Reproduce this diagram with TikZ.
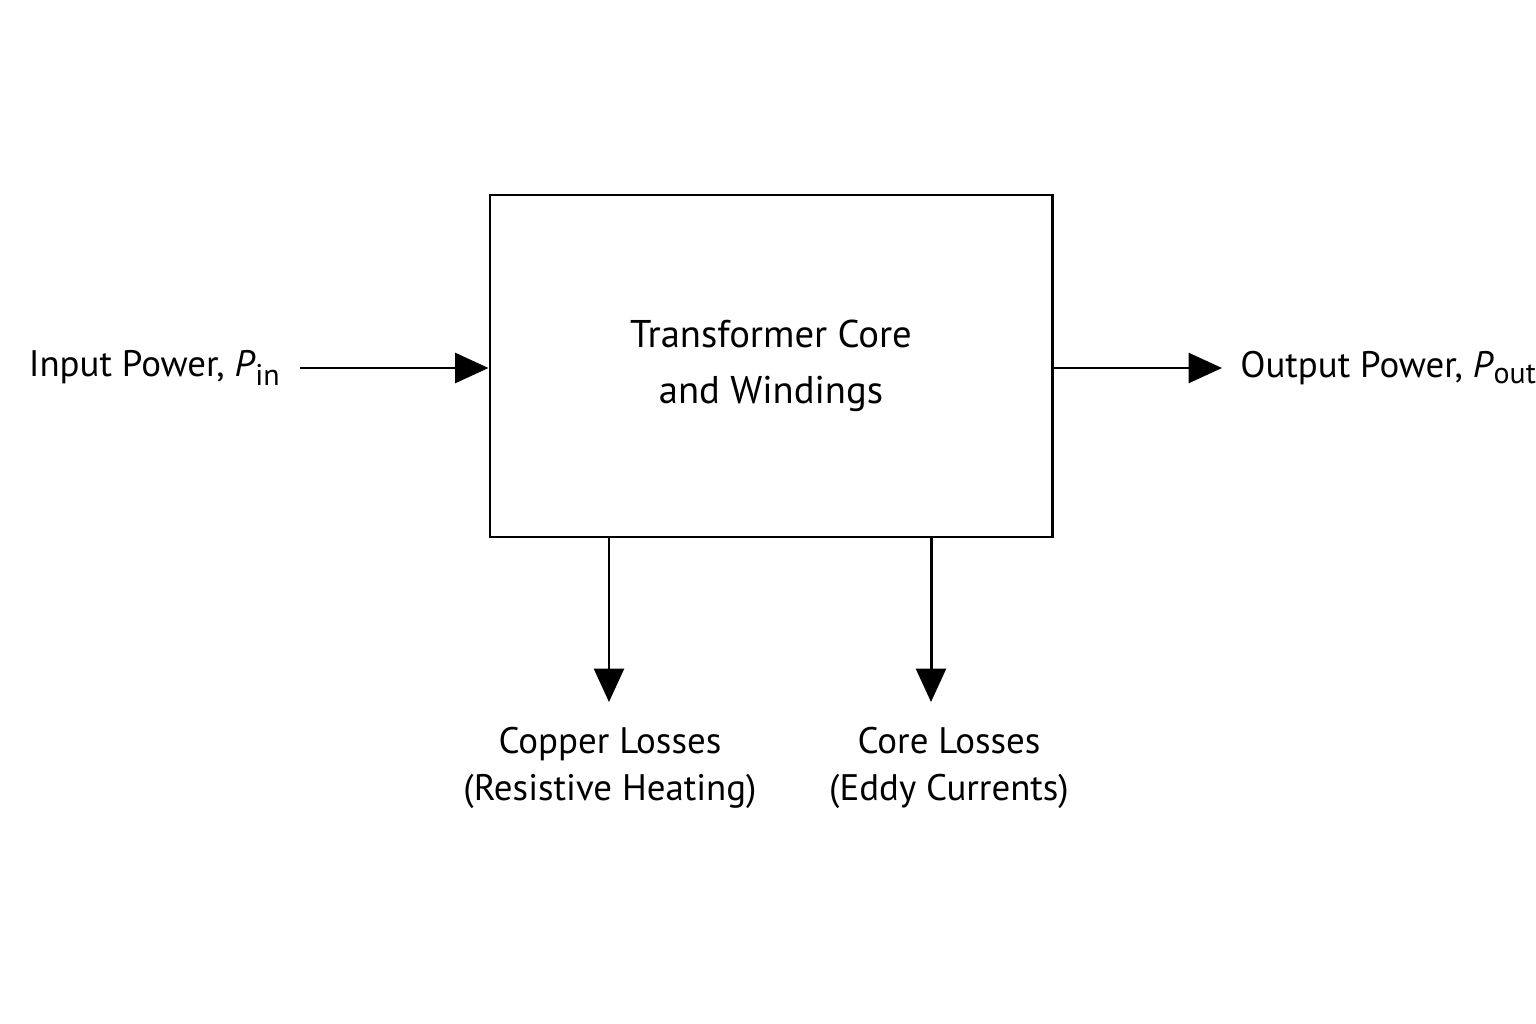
\documentclass[tikz,border=0pt]{standalone}
\usepackage{fontspec}
\setmainfont{PT Sans}
\usetikzlibrary{arrows.meta,positioning}
\tikzset{
  flow/.style={line width=1.7pt,-{Triangle[length=19pt,width=17pt]}},
  lbl/.style={font=\fontsize{21}{27}\selectfont,align=center,inner sep=0pt},
}
\newcommand{\pwr}[1]{\textit{P}\textsubscript{\fontsize{17}{17}\selectfont #1}}
\begin{document}
\begin{tikzpicture}[x=0.02cm,y=-0.02cm]
\useasboundingbox (0,0) rectangle (1536,1024);

\node[draw,line width=1.7pt,minimum width=562*0.02cm,minimum height=342*0.02cm,
  font=\fontsize{22}{32}\selectfont,align=center] (core) at (771,366)
  {Transformer Core\\and Windings};

\node[lbl,anchor=east] (in) at (281,368) {Input Power, \pwr{in}};
\node[lbl,anchor=west] (out) at (1240,368) {Output Power, \pwr{out}};
\node[lbl] (cu) at (610,768) {Copper Losses\\(Resistive Heating)};
\node[lbl] (fe) at (949,768) {Core Losses\\(Eddy Currents)};

\coordinate (a1) at (300,368);
\coordinate (a2) at (1222,368);
\coordinate (b1) at (609,537);
\coordinate (b2) at (609,702);
\coordinate (c1) at (931,537);
\coordinate (c2) at (931,702);

\draw[flow] (a1) -- (core.west |- a1);
\draw[flow] (core.east |- a2) -- (a2);
\draw[flow] (b1) -- (b2);
\draw[flow] (c1) -- (c2);
\end{tikzpicture}
\end{document}
